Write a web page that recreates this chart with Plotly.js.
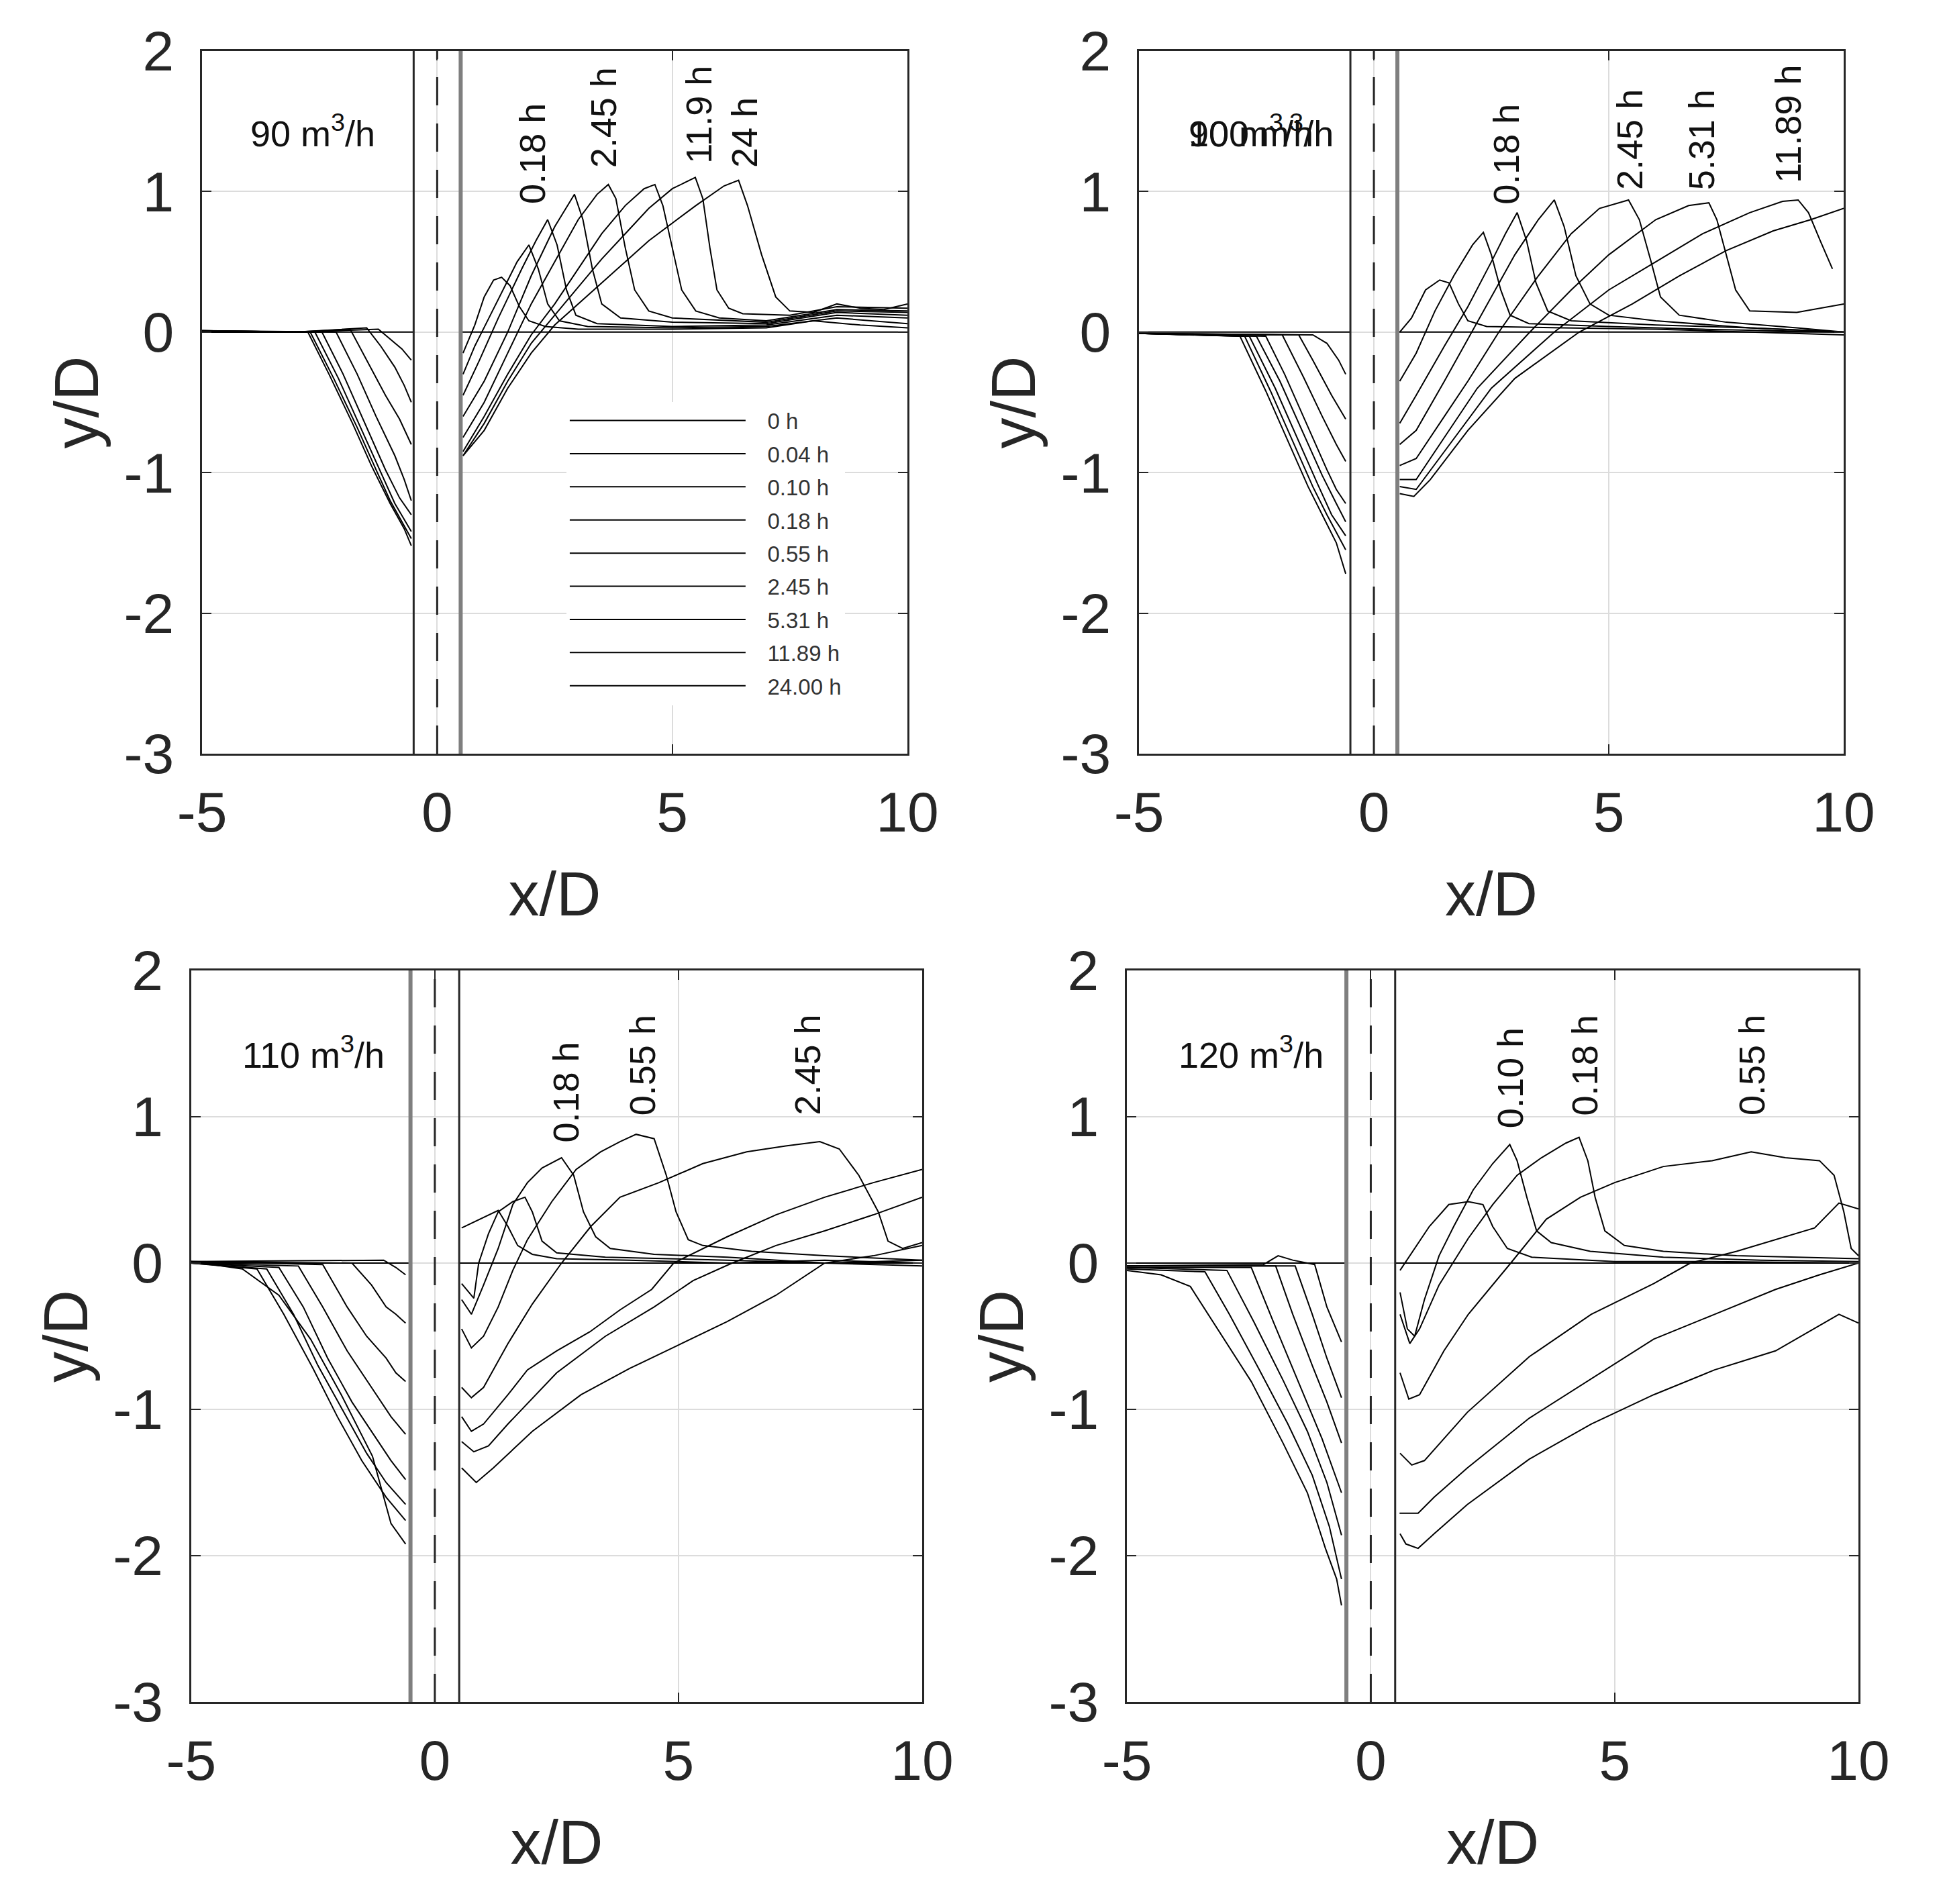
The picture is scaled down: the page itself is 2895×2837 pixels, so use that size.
<!DOCTYPE html>
<html>
<head>
<meta charset="utf-8">
<script src="https://cdn.plot.ly/plotly-3.0.1.min.js"></script>
<style>
html,body{margin:0;padding:0;background:#ffffff;}
#chart{width:2895px;height:2837px;}
</style>
</head>
<body>
<div id="chart"></div>
<script>
// ---------------- shared labels / ticks ----------------
const timeLabels = ['0 h','0.04 h','0.10 h','0.18 h','0.55 h','2.45 h','5.31 h','11.89 h','24.00 h'];
const xTickVals = [-5, 0, 5, 10];
const xTickText = ['-5', '0', '5', '10'];
const yTickVals = [-3, -2, -1, 0, 1, 2];
const yTickText = ['-3', '-2', '-1', '0', '1', '2'];
const pileEdges = [-0.5, 0.5];
const pileAxis = [0];
const bedX = [-5, -0.5, null, 0.5, 10];
const bedY = [0, 0, null, 0, 0];

// ---------------- 90 m3/h (top left) ----------------
const q90UpX = [
  [-5,-3,-1.25,-1.0,-0.75,-0.55],
  [-5,-3,-1.5,-1.2,-0.9,-0.7,-0.55],
  [-5,-3,-1.85,-1.5,-1.1,-0.8,-0.55],
  [-5,-2.9,-2.15,-1.7,-1.3,-0.9,-0.7,-0.55],
  [-5,-2.45,-2.0,-1.5,-1.1,-0.8,-0.55],
  [-5,-2.6,-2.1,-1.6,-1.2,-0.9,-0.55],
  [-5,-2.7,-2.2,-1.7,-1.3,-1.0,-0.55],
  [-5,-2.75,-2.3,-1.8,-1.4,-1.0,-0.7,-0.55]
];
const q90UpY = [
  [0.01,0,0.02,-0.05,-0.12,-0.2],
  [0.01,0,0.03,-0.1,-0.25,-0.38,-0.5],
  [0.01,0,0.02,-0.2,-0.45,-0.62,-0.8],
  [0.01,0,0,-0.3,-0.6,-0.88,-1.05,-1.2],
  [0,0,-0.3,-0.68,-0.98,-1.18,-1.3],
  [0,0,-0.33,-0.7,-1.0,-1.22,-1.42],
  [0,0,-0.33,-0.68,-0.98,-1.2,-1.47],
  [0,0,-0.3,-0.65,-0.95,-1.22,-1.4,-1.52]
];
const q90DnX = [
  [0.55,0.8,1.0,1.2,1.37,1.55,1.75,1.95,2.3,3,5,7,8,9,10],
  [0.55,0.8,1.1,1.4,1.7,1.95,2.15,2.35,2.6,3.2,5,7,8.5,10],
  [0.55,0.9,1.3,1.8,2.1,2.35,2.55,2.75,2.95,3.4,5,7,8.5,10],
  [0.55,1.0,1.5,2.0,2.5,2.92,3.1,3.3,3.5,3.9,5,7,8.5,10],
  [0.55,1.0,1.5,2.0,2.5,3.0,3.4,3.64,3.8,4.0,4.2,4.5,5,7,8.5,10],
  [0.55,1.0,1.5,2.0,2.5,3.0,3.5,4.0,4.4,4.63,4.8,5.0,5.2,5.5,6,7,8.5,10],
  [0.55,1.0,1.5,2.0,2.5,3.0,3.5,4.0,4.5,5.0,5.49,5.65,5.8,5.95,6.2,6.5,7.5,8.5,10],
  [0.55,1.0,1.5,2.0,2.5,3.5,4.5,5.5,6.1,6.41,6.6,6.9,7.2,7.5,8,8.5,9,9.5,10]
];
const q90DnY = [
  [-0.15,0.05,0.25,0.37,0.39,0.33,0.18,0.08,0.04,0.02,0.02,0.03,0.08,0.05,0.03],
  [-0.3,-0.1,0.1,0.3,0.5,0.62,0.45,0.2,0.08,0.04,0.03,0.04,0.1,0.06],
  [-0.45,-0.2,0.1,0.45,0.65,0.8,0.62,0.3,0.12,0.06,0.04,0.05,0.12,0.1],
  [-0.6,-0.35,0,0.4,0.75,0.98,0.8,0.45,0.2,0.1,0.07,0.06,0.14,0.12],
  [-0.75,-0.5,-0.15,0.2,0.5,0.8,0.98,1.05,0.95,0.6,0.3,0.15,0.1,0.07,0.15,0.14],
  [-0.85,-0.6,-0.3,-0.02,0.2,0.45,0.7,0.9,1.02,1.05,0.9,0.6,0.3,0.15,0.1,0.08,0.16,0.15],
  [-0.88,-0.65,-0.35,-0.08,0.12,0.32,0.52,0.7,0.88,1.02,1.1,0.95,0.6,0.3,0.17,0.13,0.12,0.18,0.17],
  [-0.88,-0.7,-0.4,-0.15,0.05,0.35,0.65,0.9,1.04,1.08,0.9,0.55,0.25,0.15,0.14,0.2,0.17,0.16,0.2]
];

// ---------------- 100 m3/h (top right) ----------------
const q100UpX = [
  [-5,-1.3,-1.0,-0.75,-0.6],
  [-5,-1.6,-1.3,-0.9,-0.6],
  [-5,-1.95,-1.5,-1.1,-0.8,-0.6],
  [-5,-2.3,-1.9,-1.4,-1.0,-0.8,-0.6],
  [-5,-2.5,-2.0,-1.5,-1.1,-0.8,-0.6],
  [-5,-2.65,-2.1,-1.6,-1.2,-0.9,-0.6],
  [-5,-2.75,-2.2,-1.7,-1.3,-1.0,-0.6],
  [-5,-2.85,-2.3,-1.8,-1.4,-1.1,-0.8,-0.6]
];
const q100UpY = [
  [-0.01,-0.02,-0.08,-0.2,-0.3],
  [-0.01,-0.02,-0.2,-0.45,-0.62],
  [-0.01,-0.02,-0.32,-0.6,-0.8,-0.92],
  [-0.01,-0.03,-0.3,-0.68,-0.98,-1.12,-1.22],
  [-0.01,-0.03,-0.35,-0.72,-1.02,-1.22,-1.35],
  [-0.01,-0.03,-0.4,-0.78,-1.08,-1.3,-1.45],
  [-0.01,-0.03,-0.42,-0.8,-1.1,-1.3,-1.55],
  [-0.01,-0.03,-0.42,-0.8,-1.1,-1.3,-1.5,-1.72]
];
const q100DnX = [
  [0.55,0.8,1.1,1.4,1.6,1.8,2.0,2.4,4,6,8,10],
  [0.55,0.9,1.3,1.7,2.1,2.33,2.5,2.7,2.9,3.3,5,7,10],
  [0.55,0.9,1.5,2.0,2.5,2.8,3.05,3.25,3.45,3.7,4.2,6,8,10],
  [0.55,0.9,1.5,2.0,2.5,3.0,3.5,3.84,4.05,4.3,4.6,5.0,6,8,10],
  [0.55,0.9,1.5,2.0,2.66,3.5,4.2,4.8,5.42,5.65,5.9,6.1,6.5,7.5,9,10],
  [0.55,0.9,1.5,2.2,3.32,4.2,5.0,6.0,6.7,7.13,7.3,7.5,7.7,8.0,9,10],
  [0.55,0.9,1.5,2.5,3.84,5,6,7,8,8.7,9.03,9.25,9.5,9.76],
  [0.55,0.85,1.2,2,3,4.37,5.5,6.5,7.5,8.5,9.3,10]
];
const q100DnY = [
  [0.0,0.1,0.3,0.37,0.35,0.2,0.08,0.04,0.03,0.02,0.0,-0.02],
  [-0.35,-0.15,0.15,0.4,0.62,0.71,0.55,0.3,0.12,0.06,0.04,0.02,0.0],
  [-0.65,-0.45,-0.1,0.18,0.5,0.7,0.85,0.65,0.35,0.15,0.08,0.05,0.03,0.0],
  [-0.8,-0.7,-0.35,-0.05,0.25,0.55,0.8,0.94,0.75,0.4,0.2,0.12,0.08,0.03,0.0],
  [-0.95,-0.9,-0.6,-0.35,0,0.4,0.7,0.88,0.94,0.8,0.5,0.25,0.12,0.07,0.03,0.0],
  [-1.05,-1.05,-0.75,-0.4,0,0.3,0.55,0.8,0.9,0.92,0.8,0.55,0.3,0.15,0.14,0.2],
  [-1.1,-1.12,-0.85,-0.4,0,0.3,0.5,0.7,0.85,0.93,0.94,0.85,0.65,0.45],
  [-1.15,-1.17,-1.05,-0.7,-0.33,0,0.2,0.4,0.58,0.72,0.8,0.88]
];

// ---------------- 110 m3/h (bottom left) ----------------
const q110UpX = [
  [-5,-1.05,-0.8,-0.6],
  [-5,-1.7,-1.3,-1.0,-0.8,-0.6],
  [-5,-2.3,-1.8,-1.4,-1.0,-0.8,-0.6],
  [-5,-2.8,-2.3,-1.8,-1.3,-0.9,-0.6],
  [-5,-3.2,-2.7,-2.2,-1.7,-1.2,-0.9,-0.6],
  [-5,-3.45,-2.9,-2.4,-1.9,-1.4,-1.0,-0.6],
  [-5,-3.65,-3.1,-2.5,-2.0,-1.5,-1.0,-0.6],
  [-5,-3.95,-3.2,-2.55,-1.92,-1.28,-0.9,-0.6]
];
const q110UpY = [
  [0.01,0.02,-0.03,-0.08],
  [0.01,0,-0.15,-0.3,-0.35,-0.41],
  [0.01,-0.01,-0.3,-0.5,-0.65,-0.75,-0.81],
  [0,-0.02,-0.3,-0.6,-0.85,-1.05,-1.17],
  [0,-0.03,-0.3,-0.65,-0.95,-1.2,-1.35,-1.48],
  [0,-0.04,-0.35,-0.7,-1.0,-1.3,-1.5,-1.65],
  [0,-0.04,-0.35,-0.72,-1.05,-1.35,-1.6,-1.76],
  [0.01,-0.04,-0.22,-0.52,-0.9,-1.32,-1.78,-1.92]
];
const q110DnX = [
  [0.55,0.8,1.05,1.3,1.5,1.7,2.0,2.5,4,6,8,10],
  [0.55,0.8,0.9,1.1,1.3,1.6,1.85,2.0,2.2,2.5,3.5,6,8,10],
  [0.55,0.75,1.0,1.3,1.6,1.9,2.2,2.6,2.85,3.05,3.3,3.6,4.5,6,8,10],
  [0.55,0.75,1.0,1.3,1.6,1.9,2.4,2.9,3.4,3.8,4.13,4.5,4.75,4.95,5.2,5.5,6.5,8,10],
  [0.55,0.75,1.0,1.5,2.0,2.6,3.2,3.8,4.6,5.5,6.4,7.2,7.9,8.3,8.7,9.1,9.3,9.6,10],
  [0.55,0.75,1.0,1.5,1.9,2.5,3.18,3.8,4.45,4.9,6,7,8,9,10],
  [0.55,0.8,1.1,1.5,2.5,3.5,4.5,5.3,6.1,7,8,9,10],
  [0.55,0.85,1.2,2,3,4,5,6,7,8,9,10]
];
const q110DnY = [
  [0.24,0.28,0.32,0.36,0.25,0.12,0.06,0.03,0.02,0.0,0.02,0.0],
  [-0.14,-0.24,0.0,0.2,0.35,0.42,0.45,0.35,0.15,0.07,0.04,0.02,0.0,-0.02],
  [-0.25,-0.35,-0.15,0.1,0.4,0.55,0.65,0.72,0.6,0.35,0.18,0.1,0.06,0.04,0.0,0.02],
  [-0.45,-0.58,-0.5,-0.3,-0.05,0.16,0.42,0.64,0.76,0.83,0.88,0.85,0.6,0.35,0.16,0.12,0.08,0.05,0.02],
  [-0.85,-0.92,-0.85,-0.55,-0.28,0,0.25,0.45,0.55,0.68,0.76,0.8,0.83,0.78,0.6,0.35,0.15,0.1,0.14],
  [-1.05,-1.15,-1.1,-0.9,-0.73,-0.6,-0.47,-0.32,-0.18,0,0.18,0.33,0.45,0.55,0.64],
  [-1.22,-1.29,-1.25,-1.1,-0.75,-0.5,-0.3,-0.12,0,0.12,0.22,0.33,0.45],
  [-1.4,-1.5,-1.4,-1.15,-0.9,-0.72,-0.56,-0.4,-0.22,0,0.05,0.12]
];

// ---------------- 120 m3/h (bottom right) ----------------
const q120UpX = [
  [-5,-2.2,-1.9,-1.6,-1.15,-0.9,-0.6],
  [-5,-1.55,-1.2,-0.9,-0.6],
  [-5,-1.95,-1.6,-1.2,-0.9,-0.6],
  [-5,-2.45,-2.0,-1.5,-1.0,-0.6],
  [-5,-2.95,-2.4,-1.8,-1.3,-0.9,-0.6],
  [-5,-3.4,-2.9,-2.3,-1.7,-1.2,-0.85,-0.6],
  [-5,-4.3,-3.7,-3.1,-2.45,-1.8,-1.3,-0.93,-0.7,-0.6]
];
const q120UpY = [
  [-0.02,-0.01,0.05,0.02,-0.01,-0.3,-0.54],
  [-0.02,-0.02,-0.35,-0.65,-0.92],
  [-0.02,-0.02,-0.35,-0.7,-0.95,-1.23],
  [-0.03,-0.03,-0.4,-0.8,-1.2,-1.57],
  [-0.03,-0.05,-0.4,-0.8,-1.15,-1.5,-1.86],
  [-0.04,-0.06,-0.35,-0.72,-1.1,-1.45,-1.8,-2.16],
  [-0.05,-0.08,-0.16,-0.47,-0.81,-1.23,-1.57,-1.95,-2.16,-2.34]
];
const q120DnX = [
  [0.6,0.8,1.2,1.6,2.0,2.3,2.5,2.8,3.3,5,7,10],
  [0.6,0.75,0.9,1.1,1.4,1.7,2.1,2.5,2.85,3.0,3.2,3.4,3.7,4.5,6,8,10],
  [0.6,0.8,1.0,1.4,2.0,2.5,3.0,3.5,4.0,4.27,4.45,4.6,4.8,5.2,6,7.5,10],
  [0.6,0.78,1.0,1.5,2.0,2.87,3.6,4.3,5.0,6.0,7.0,7.8,8.5,9.2,9.5,9.7,9.85,10],
  [0.6,0.84,1.1,1.98,3.25,4.52,5.8,6.55,7.5,8.3,9.1,9.6,10],
  [0.59,0.97,1.3,1.98,3.25,4.52,5.8,7.05,8.3,9.2,10],
  [0.6,0.72,0.97,1.3,1.98,3.25,4.52,5.8,7.05,8.3,9.6,10]
];
const q120DnY = [
  [-0.05,0.05,0.25,0.4,0.42,0.4,0.25,0.1,0.04,0.01,0.01,0.0],
  [-0.2,-0.45,-0.5,-0.25,0.05,0.25,0.5,0.68,0.81,0.7,0.45,0.22,0.14,0.08,0.04,0.02,0.01],
  [-0.35,-0.55,-0.45,-0.15,0.17,0.4,0.6,0.72,0.82,0.86,0.7,0.45,0.22,0.12,0.08,0.05,0.03],
  [-0.75,-0.93,-0.9,-0.6,-0.35,0,0.3,0.45,0.55,0.66,0.7,0.76,0.72,0.7,0.6,0.35,0.1,0.05],
  [-1.3,-1.38,-1.35,-1.02,-0.64,-0.35,-0.14,0,0.08,0.16,0.24,0.41,0.37],
  [-1.71,-1.71,-1.6,-1.4,-1.06,-0.79,-0.52,-0.35,-0.18,-0.08,0.0],
  [-1.85,-1.92,-1.95,-1.85,-1.65,-1.34,-1.1,-0.9,-0.73,-0.6,-0.35,-0.41]
];

// ---------------- panel text ----------------
const flowLabels = [
  ['90 m<sup>3</sup>/h'],
  ['100 m<sup>3</sup>/h', '90 m<sup>3</sup>/h'],
  ['110 m<sup>3</sup>/h'],
  ['120 m<sup>3</sup>/h']
];
const crestLabels = [
  ['0.18 h', '2.45 h', '11.9 h', '24 h'],
  ['0.18 h', '2.45 h', '5.31 h', '11.89 h'],
  ['0.18 h', '0.55 h', '2.45 h'],
  ['0.10 h', '0.18 h', '0.55 h']
];

// ---------------- layout config ----------------
const FONT = 'Liberation Sans, Arial, Helvetica, sans-serif';
const INK = '#262626';
const LEGEND_PAD = '\u00a0\u00a0\u00a0';
const panels = [
  {xa:'x',  ya:'y',  upX:q90UpX,  upY:q90UpY,  dnX:q90DnX,  dnY:q90DnY,
   dx:[0.1040,0.4670], dy:[0.6042,0.9732], grayLeft:false,
   flowPos:[-4.0,1.43], crestPos:[[2.03,0.90],[3.54,1.16],[5.55,1.19],[6.54,1.16]]},
  {xa:'x2', ya:'y2', upX:q100UpX, upY:q100UpY, dnX:q100DnX, dnY:q100DnY,
   dx:[0.5862,0.9489], dy:[0.6042,0.9732], grayLeft:false,
   flowPos:[-3.97,1.43], crestPos:[[2.82,0.90],[5.45,1.0],[6.97,1.0],[8.81,1.05]]},
  {xa:'x3', ya:'y3', upX:q110UpX, upY:q110UpY, dnX:q110DnX, dnY:q110DnY,
   dx:[0.0984,0.4746], dy:[0.1061,0.4903], grayLeft:true,
   flowPos:[-3.98,1.44], crestPos:[[2.69,0.815],[4.26,1.0],[7.64,1.0]]},
  {xa:'x4', ya:'y4', upX:q120UpX, upY:q120UpY, dnX:q120DnX, dnY:q120DnY,
   dx:[0.5800,0.9565], dy:[0.1061,0.4903], grayLeft:true,
   flowPos:[-3.97,1.44], crestPos:[[2.85,0.91],[4.39,1.0],[7.81,1.0]]}
];

const traces = [];
const shapes = [];
const annotations = [];
const layout = {
  width: 2895, height: 2837,
  margin: {l:0, r:0, t:0, b:0},
  paper_bgcolor: '#ffffff', plot_bgcolor: '#ffffff',
  showlegend: true,
  legend: {
    x: 0.2915, y: 0.7890, xanchor: 'left', yanchor: 'top',
    bgcolor: '#ffffff', borderwidth: 0,
    font: {family: FONT, size: 33, color: '#333333'},
    itemwidth: 262, tracegroupgap: 3.5,
    itemclick: false, itemdoubleclick: false
  },
  shapes: shapes,
  annotations: annotations
};

function axisCommon() {
  return {
    showline: true, mirror: 'ticks', linecolor: INK, linewidth: 3,
    ticks: 'inside', ticklen: 14, tickwidth: 2, tickcolor: INK,
    showgrid: true, gridcolor: '#dcdcdc', gridwidth: 2,
    zeroline: false, tickmode: 'array',
    tickfont: {family: FONT, size: 84, color: INK},
    fixedrange: true
  };
}

panels.forEach((p, pi) => {
  const xKey = 'xaxis' + (pi === 0 ? '' : pi + 1);
  const yKey = 'yaxis' + (pi === 0 ? '' : pi + 1);
  layout[xKey] = Object.assign(axisCommon(), {
    domain: p.dx, range: [-5, 10], anchor: p.ya,
    tickvals: xTickVals, ticktext: xTickText, ticklabelstandoff: 12,
    title: {text: 'x/D', font: {family: FONT, size: 92, color: INK}, standoff: 44}
  });
  layout[yKey] = Object.assign(axisCommon(), {
    domain: p.dy, range: [-3, 2], anchor: p.xa,
    tickvals: yTickVals, ticktext: yTickText, ticklabelstandoff: 22,
    title: {text: 'y/D', font: {family: FONT, size: 92, color: INK}, standoff: 8}
  });

  // initial bed (0 h)
  traces.push({
    x: bedX, y: bedY, xaxis: p.xa, yaxis: p.ya, type: 'scatter', mode: 'lines',
    line: {color: '#000000', width: 2}, name: LEGEND_PAD + timeLabels[0],
    legendgroup: timeLabels[0], showlegend: pi === 0, hoverinfo: 'skip'
  });
  // scour profiles
  p.upX.forEach((ux, i) => {
    traces.push({
      x: ux.concat([null], p.dnX[i]),
      y: p.upY[i].concat([null], p.dnY[i]),
      xaxis: p.xa, yaxis: p.ya, type: 'scatter', mode: 'lines',
      line: {color: '#000000', width: 2}, name: LEGEND_PAD + timeLabels[i + 1],
      legendgroup: timeLabels[i + 1], showlegend: pi === 0, hoverinfo: 'skip'
    });
  });

  // pile outline
  pileEdges.forEach((e, k) => {
    const gray = (k === 0) === p.grayLeft;
    shapes.push({
      type: 'line', xref: p.xa, yref: p.ya + ' domain', x0: e, x1: e, y0: 0, y1: 1,
      line: {color: gray ? '#7f7f7f' : '#262626', width: gray ? 6 : 3}
    });
  });
  pileAxis.forEach(c => {
    shapes.push({
      type: 'line', xref: p.xa, yref: p.ya + ' domain', x0: c, x1: c, y0: 0, y1: 1,
      line: {color: '#262626', width: 3, dash: '42px,27px'}
    });
  });

  // flow-rate label(s)
  flowLabels[pi].forEach(t => {
    annotations.push({
      text: t, xref: p.xa, yref: p.ya, x: p.flowPos[0], y: p.flowPos[1],
      xanchor: 'left', yanchor: 'middle', showarrow: false,
      font: {family: FONT, size: 54, color: '#111111'}
    });
  });
  // crest time labels
  crestLabels[pi].forEach((t, k) => {
    annotations.push({
      text: t, xref: p.xa, yref: p.ya, x: p.crestPos[k][0], y: p.crestPos[k][1],
      xanchor: 'center', yanchor: 'bottom', textangle: -90, showarrow: false,
      font: {family: FONT, size: 54, color: '#111111'}
    });
  });
});

Plotly.newPlot('chart', traces, layout, {displayModeBar: false, staticPlot: true});
</script>
</body>
</html>
